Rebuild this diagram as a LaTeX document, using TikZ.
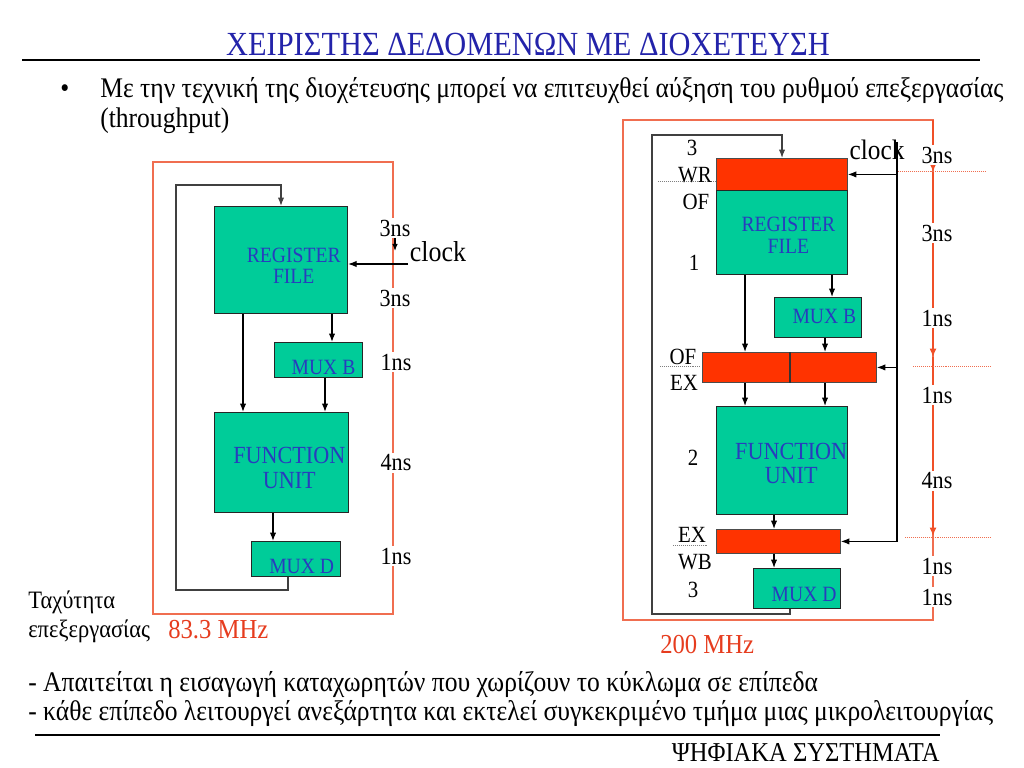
\documentclass[tikz,border=0pt]{standalone}
\usepackage{fontspec}
\setmainfont{Liberation Serif}[FakeStretch=0.9]
\usetikzlibrary{arrows.meta,positioning}
\definecolor{titleBlue}{RGB}{35,35,170}
\definecolor{unitGreen}{RGB}{0,204,153}
\definecolor{unitText}{RGB}{40,60,190}
\definecolor{regRed}{RGB}{255,51,0}
\definecolor{frameRed}{RGB}{240,110,80}
\definecolor{axisRed}{RGB}{240,80,40}
\definecolor{mhzRed}{RGB}{230,60,30}

\begin{document}
\begin{tikzpicture}[
    x=0.025cm, y=-0.025cm,
    wh/.style 2 args={minimum width=#1*0.025cm, minimum height=#2*0.025cm},
    unit/.style={draw=black!85, fill=unitGreen, line width=0.8pt, inner sep=0pt, anchor=north west},
    reg/.style={draw=black!70, fill=regRed, line width=0.6pt, inner sep=0pt, anchor=north west},
    utxt/.style={text=unitText, align=center, inner sep=0pt, font=\fontsize{#1}{#1}\selectfont},
    ns/.style={fill=white, inner sep=1pt, font=\fontsize{17.5}{18}\selectfont},
    stage/.style={inner sep=0pt, font=\fontsize{16.5}{17}\selectfont},
    txt/.style={inner sep=0pt, anchor=base west, font=\fontsize{20.2}{22}\selectfont},
    arrow/.style={-{Latex[length=6pt,width=4.5pt]}, line width=0.8pt},
    feedback/.style={arrow, draw=black!75},
    axis/.style={-{Latex[length=6pt,width=5pt]}, draw=axisRed, line width=1pt},
    frame/.style={draw=frameRed, line width=1pt},
    guide/.style={densely dotted, line width=0.4pt}
]
\useasboundingbox (0,0) rectangle (1024,768);

% title and text
\node[anchor=base, inner sep=0pt, text=titleBlue, font=\fontsize{24}{26}\selectfont] (title) at (528,56) {ΧΕΙΡΙΣΤΗΣ ΔΕΔΟΜΕΝΩΝ ΜΕ ΔΙΟΧΕΤΕΥΣΗ};
\draw[line width=0.8pt] (22,60) -- (980,60);
\node[txt] (bullet) at (60,98) {•};
\node[txt] (intro1) at (100,98) {Με την τεχνική της διοχέτευσης μπορεί να επιτευχθεί αύξηση του ρυθμού επεξεργασίας};
\node[txt] (intro2) at (100,128) {(throughput)};

% non-pipelined
\draw[frame] (153,162) rectangle (393,614);
\node[unit, wh={133}{107}] (regL) at (214,206) {};
\node[utxt=15.5] at ([xshift=9pt,yshift=-4pt]regL.center) {REGISTER\\FILE};
\node[unit, wh={88}{35}] (muxBL) at (274,342) {};
\node[utxt=15.5] at ([xshift=3.5pt,yshift=-5pt]muxBL.center) {MUX B};
\node[unit, wh={134}{100}] (funcL) at (214,412) {};
\node[utxt=17.5] at ([xshift=5.5pt,yshift=-4pt]funcL.center) {FUNCTION\\UNIT};
\node[unit, wh={89}{35}] (muxDL) at (251,541) {};
\node[utxt=15.5] at ([xshift=4pt,yshift=-5pt]muxDL.center) {MUX D};

\draw[arrow] (regL.south -| 243,0) -- (funcL.north -| 243,0);
\draw[arrow] (regL.south -| 332,0) -- (muxBL.north -| 332,0);
\draw[arrow] (muxBL.south -| 325,0) -- (funcL.north -| 325,0);
\draw[arrow] (funcL.south -| 273,0) -- (muxDL.north -| 273,0);
\draw[feedback] (muxDL.south -| 288,0) |- (176,590) |- (281,185) -- (regL.north -| 281,0);

\node[ns] (nsL1) at (395,228) {3ns};
\node[ns] (nsL2) at (395,298) {3ns};
\node[ns] (nsL3) at (396,362) {1ns};
\node[ns] (nsL4) at (396,463) {4ns};
\node[ns] (nsL5) at (396,556) {1ns};
\draw[-{Latex[length=5pt,width=4pt]}, line width=0.8pt] (nsL1.south) -- +(0,13);
\node[inner sep=0pt, font=\fontsize{20.5}{21}\selectfont] (clkL) at (438,252) {clock};
\coordinate (clkLin) at (408,264);
\draw[arrow] (clkLin) -- (regL.east |- clkLin);

\node[txt, font=\fontsize{17.8}{18}\selectfont] (speed1) at (28,608) {Ταχύτητα};
\node[txt, font=\fontsize{17.8}{18}\selectfont] (speed2) at (28,637) {επεξεργασίας};
\node[txt, text=mhzRed, font=\fontsize{19.5}{20}\selectfont] (mhzL) at (168,638) {83.3 MHz};

% pipelined
\draw[frame] (623,120) rectangle (933,620);
\draw[axis] (933,120) -- (933,172);
\draw[axis] (933,172) -- (933,357);
\draw[axis] (933,357) -- (933,536);
\draw[guide, draw=frameRed] (898,171) -- (985,171);
\draw[guide, draw=frameRed] (913,366) -- (990,366);
\draw[guide, draw=frameRed] (905,537) -- (990,537);
\draw[guide, draw=gray] (658,181) -- (716,181);
\draw[guide, draw=gray] (660,366) -- (700,366);
\draw[guide, draw=gray] (673,545) -- (708,545);

\node[reg, wh={131}{32}] (wrR) at (716,158) {};
\node[unit, wh={131}{84}] (rfR) at (716,190) {};
\node[utxt=15.5] at ([xshift=4.5pt,yshift=-2pt]rfR.center) {REGISTER\\FILE};
\node[unit, wh={87}{40}] (muxBR) at (774,297) {};
\node[utxt=15.5] at ([xshift=4.5pt,yshift=0.5pt]muxBR.center) {MUX B};
\node[reg, wh={174}{30}] (ofexR) at (702,352) {};
\draw[line width=0.8pt, draw=black!80] (ofexR.north -| 790,0) -- (ofexR.south -| 790,0);
\node[unit, wh={131}{108}] (funcR) at (716,406) {};
\node[utxt=17.5] at ([xshift=6.5pt,yshift=-2pt]funcR.center) {FUNCTION\\UNIT};
\node[reg, wh={124}{24}] (exwbR) at (716,529) {};
\node[unit, wh={87}{40}] (muxDR) at (753,568) {};
\node[utxt=15.5] at ([xshift=5pt,yshift=-4pt]muxDR.center) {MUX D};

\draw[arrow] (rfR.south -| 745,0) -- (ofexR.north -| 745,0);
\draw[arrow] (rfR.south -| 832,0) -- (muxBR.north -| 832,0);
\draw[arrow] (muxBR.south -| 825,0) -- (ofexR.north -| 825,0);
\draw[arrow] (ofexR.south -| 745,0) -- (funcR.north -| 745,0);
\draw[arrow] (ofexR.south -| 825,0) -- (funcR.north -| 825,0);
\draw[arrow] (funcR.south -| 774,0) -- (exwbR.north -| 774,0);
\draw[arrow] (exwbR.south -| 774,0) -- (muxDR.north -| 774,0);
\draw[feedback] (muxDR.south -| 790,0) |- (652,614) |- (782,135) -- (wrR.north -| 782,0);

\node[inner sep=0pt, font=\fontsize{20}{21}\selectfont] (clkR) at (877,150) {clock};
\coordinate (busTop) at (897,142);
\draw[arrow] (busTop) |- (exwbR.east);
\draw[arrow] (busTop |- wrR.east) -- (wrR.east);
\draw[arrow] (busTop |- ofexR.east) -- (ofexR.east);

\node[stage] (s3a) at (692,148) {3};
\node[stage] (sWR) at (695,175) {WR};
\node[stage] (sOFa) at (696,202) {OF};
\node[stage] (s1) at (694,263) {1};
\node[stage] (sOFb) at (683,357) {OF};
\node[stage] (sEXa) at (684,383) {EX};
\node[stage] (s2) at (693,458) {2};
\node[stage] (sEXb) at (692,535) {EX};
\node[stage] (sWB) at (695,562) {WB};
\node[stage] (s3b) at (693,590) {3};

\node[ns] (nsR1) at (937,155) {3ns};
\node[ns] (nsR2) at (937,233) {3ns};
\node[ns] (nsR3) at (937,318) {1ns};
\node[ns] (nsR4) at (937,395) {1ns};
\node[ns] (nsR5) at (937,481) {4ns};
\node[ns] (nsR6) at (937,566) {1ns};
\node[ns] (nsR7) at (937,597) {1ns};

\node[txt, text=mhzRed, font=\fontsize{19.5}{20}\selectfont] (mhzR) at (660,653) {200 MHz};

% footer
\node[txt] (note1) at (28,691) {- Απαιτείται η εισαγωγή καταχωρητών που χωρίζουν το κύκλωμα σε επίπεδα};
\node[txt] (note2) at (28,720) {- κάθε επίπεδο λειτουργεί ανεξάρτητα και εκτελεί συγκεκριμένο τμήμα μιας μικρολειτουργίας};
\draw[line width=0.8pt] (35,735) -- (940,735);
\node[txt, anchor=base east, font=\fontsize{19.4}{20}\selectfont] (course) at (940,761) {ΨΗΦΙΑΚΑ ΣΥΣΤΗΜΑΤΑ};
\end{tikzpicture}
\end{document}
